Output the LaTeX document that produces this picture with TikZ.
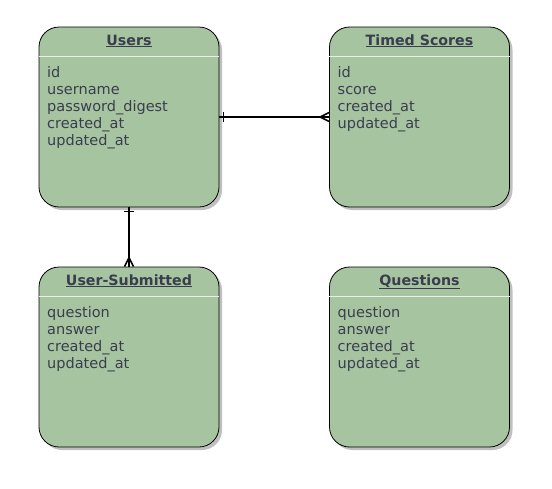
\documentclass[tikz,border=0pt]{standalone}
\usepackage{fontspec}
\setmainfont{DejaVu Sans}
\usetikzlibrary{calc}
\definecolor{boxfill}{HTML}{A7C4A0}
\definecolor{txt}{HTML}{3A3D4E}
\definecolor{shadow}{HTML}{BFBFBF}
\tikzset{
  entity/.style={draw=black, line width=0.8pt, fill=boxfill, rounded corners=20pt,
    minimum width=180pt, minimum height=180pt, inner sep=0pt},
  shadowbox/.style={fill=shadow, rounded corners=20pt, minimum width=180pt,
    minimum height=180pt, inner sep=0pt},
  title/.style={font=\fontsize{14.2pt}{16pt}\selectfont\bfseries, text=txt, inner sep=0pt, anchor=base},
  fields/.style={font=\fontsize{14.5pt}{17pt}\selectfont, text=txt, inner sep=0pt,
    anchor=north west, align=left},
  sep/.style={draw=white!85!gray, line width=1pt},
  conn/.style={line width=1.6pt, black}
}
\newcommand{\entitybox}[5]{%
  \node[shadowbox] at (#2+3,#3+3) {};
  \node[entity] (#1) at (#2,#3) {};
  \node[title] (#1t) at (#2,#3-72) {\underline{#4}};
  \draw[sep] (#1.west |- 0,#3-61) -- (#1.east |- 0,#3-61);
  \node[fields] (#1f) at (#2-82,#3-51) {#5};
}
\begin{document}
\begin{tikzpicture}[x=1pt,y=-1pt]
\useasboundingbox (0,0) rectangle (552,488);
\entitybox{users}{129}{117}{Users}{id\\username\\password\_digest\\created\_at\\updated\_at}
\entitybox{ts}{419.5}{117}{Timed Scores}{id\\score\\created\_at\\updated\_at}
\entitybox{us}{129}{357}{User-Submitted}{question\\answer\\created\_at\\updated\_at}
\entitybox{q}{419.5}{357}{Questions}{question\\answer\\created\_at\\updated\_at}
% Users -- Timed Scores
\draw[conn] (users.east) -- (ts.west);
\draw[conn] ($(users.east)+(4,-5)$) -- ($(users.east)+(4,5)$);
\draw[conn] ($(ts.west)+(-9,0)$) -- ($(ts.west)+(0,-4.5)$);
\draw[conn] ($(ts.west)+(-9,0)$) -- ($(ts.west)+(0,4.5)$);
% Users -- User-Submitted
\draw[conn] (users.south) -- (us.north);
\draw[conn] ($(users.south)+(-5,4)$) -- ($(users.south)+(5,4)$);
\draw[conn] ($(us.north)+(0,-9)$) -- ($(us.north)+(-4.5,0)$);
\draw[conn] ($(us.north)+(0,-9)$) -- ($(us.north)+(4.5,0)$);
\end{tikzpicture}
\end{document}
